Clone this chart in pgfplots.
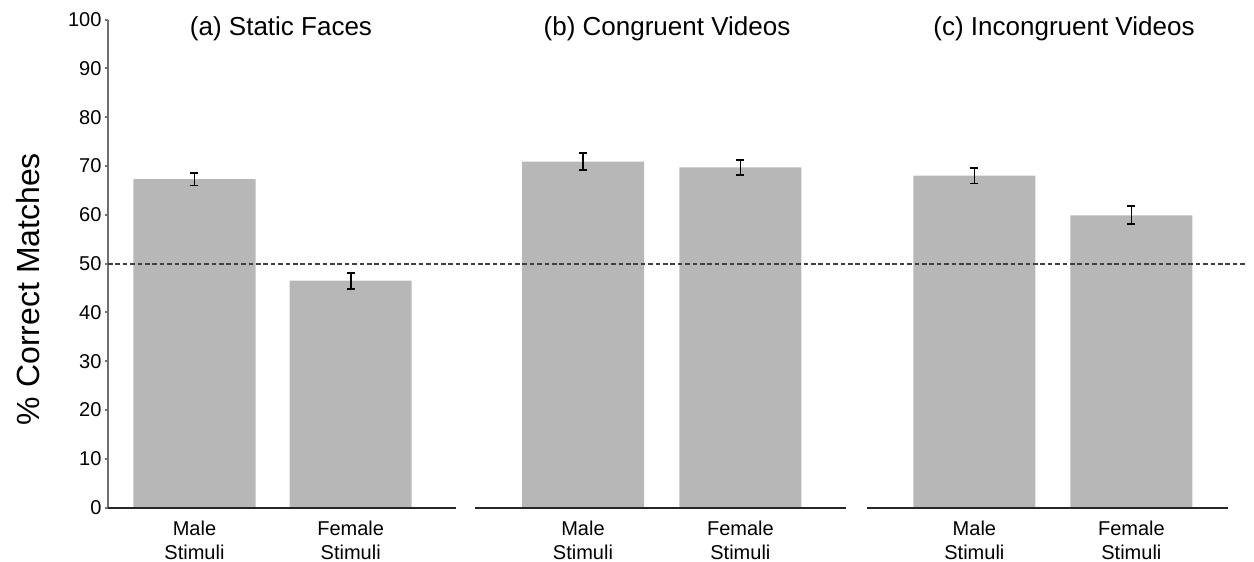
\documentclass[border=0pt]{standalone}
\usepackage{pgfplots}
\pgfplotsset{compat=1.18}
\usepackage{pgfplotstable}
\usepackage{fontspec}
\setmainfont{Liberation Sans}
\definecolor{barc}{HTML}{B7B7B7}
\definecolor{axc}{HTML}{707070}
\pgfplotstableread{
x y e
194.5 67.3 1.3
350.7 46.5 1.65
583 70.9 1.7
740.4 69.7 1.6
974.4 68.0 1.6
1131.4 59.9 1.85
}\bars
\begin{document}
\begin{tikzpicture}
\begin{axis}[
  x=0.5pt, y=2.441pt,
  xmin=108, xmax=1246, ymin=0, ymax=100,
  enlargelimits=false, clip=false,
  axis y line*=left, axis x line*=bottom,
  x axis line style={draw=none},
  y axis line style={draw=axc, line width=1pt},
  ytick={0,10,...,100},
  ytick style={draw=axc, line width=1pt},
  major tick length=1.6pt,
  tick align=outside,
  xtick={194.5,350.7,583,740.4,974.4,1131.4},
  xticklabels={Male\\Stimuli,Female\\Stimuli,Male\\Stimuli,Female\\Stimuli,Male\\Stimuli,Female\\Stimuli},
  xtick style={draw=none},
  xticklabel style={align=center, font=\fontsize{10}{11.9}\selectfont, inner sep=0pt, yshift=-5pt},
  yticklabel style={font=\fontsize{10}{12}\selectfont, inner sep=0pt, xshift=-1.5pt},
  /pgf/number format/assume math mode=true,
]
\path (axis cs:0,-10.92) rectangle (axis cs:1254,104.0);
\addplot[ybar, bar width=61pt, fill=barc, draw=none,
  error bars/.cd, y dir=both, y explicit,
  error bar style={draw=black, line width=0.9pt},
  error mark options={rotate=90, mark size=2pt, line width=0.9pt, draw=black}]
  table[x=x, y=y, y error=e] {\bars};
\addplot[draw=black!85, line width=1pt] coordinates {(108,0) (455.7,0)};
\addplot[draw=black!85, line width=1pt] coordinates {(475,0) (846,0)};
\addplot[draw=black!85, line width=1pt] coordinates {(867,0) (1228,0)};
\addplot[draw=black!75, line width=0.9pt, dash pattern=on 2.3pt off 1.4pt] coordinates {(108,50) (1246,50)};
\node[anchor=base, font=\fontsize{13}{15}\selectfont] at (axis cs:281,96.8) {(a) Static Faces};
\node[anchor=base, font=\fontsize{13}{15}\selectfont] at (axis cs:667,96.8) {(b) Congruent Videos};
\node[anchor=base, font=\fontsize{13}{15}\selectfont] at (axis cs:1064,96.8) {(c) Incongruent Videos};
\node[anchor=base, rotate=90, font=\fontsize{16}{19}\selectfont] at (axis cs:39.5,44.8) {\% Correct Matches};
\end{axis}
\end{tikzpicture}
\end{document}
